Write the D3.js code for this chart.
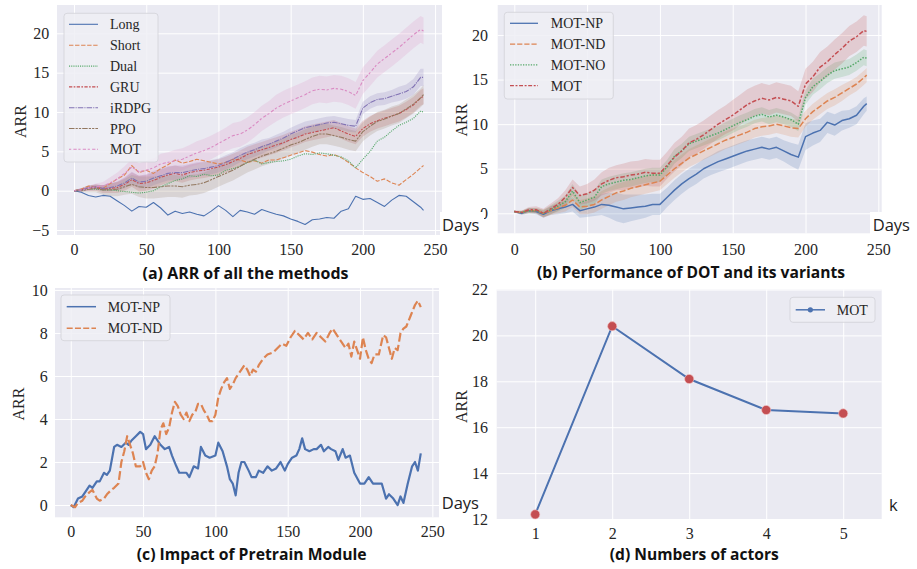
<!DOCTYPE html>
<html><head><meta charset="utf-8">
<script src="https://cdn.jsdelivr.net/npm/d3@7"></script>
<style>body{margin:0;background:#fff;}</style>
</head><body><svg id="c" width="917" height="569" xmlns="http://www.w3.org/2000/svg"></svg>
<script>
// ---------------- DATA ----------------
const daysAB = [0,5,10,15,20,25,30,35,40,45,50,55,60,65,70,75,80,85,90,95,100,105,110,115,120,125,130,135,140,145,150,155,160,165,170,175,180,185,190,195,200,205,210,215,220,225,230,235,240,242];

// (a) ARR of all the methods
const longA  = [0,-0.2,-0.6,-0.8,-0.6,-0.7,-1.3,-1.9,-2.6,-2.0, -2.1,-1.5,-2.2,-3.1,-2.6,-2.9,-2.7,-3.0,-3.2,-2.6, -1.9,-2.5,-3.3,-2.5,-2.7,-3.0,-2.4,-2.7,-3.0,-3.2, -3.6,-3.9,-4.3,-3.7,-3.6,-3.4,-3.5,-2.6,-2.3,-0.7, -1.1,-1.0,-1.5,-2.0,-1.2,-0.6,-0.7,-1.4,-2.1,-2.5];
const shortA = [0,0.2,0.6,0.5,0.3,0.9,1.5,2.0,3.2,2.3, 2.6,2.2,2.8,3.3,3.9,3.5,3.7,4.0,3.8,3.6, 3.4,3.6,4.0,3.9,3.6,3.8,3.5,3.9,3.9,4.2, 4.5,4.8,5.1,4.9,4.6,4.4,4.6,4.2,3.6,2.9, 2.3,1.8,1.2,1.5,1.0,0.7,1.4,2.1,2.9,3.2];
const dualA  = [0,0.1,0.2,0.2,0.1,0.1,0.0,-0.1,-0.2,-0.3, -0.2,0.0,0.5,0.9,1.3,1.5,1.9,1.8,2.1,1.9, 2.0,2.6,2.8,3.1,3.6,3.9,3.4,3.6,3.7,3.8, 4.0,4.4,4.7,4.6,4.8,4.7,4.5,4.3,3.8,2.9, 4.0,5.0,6.3,6.8,7.6,8.3,8.7,9.2,10.1,10.0];
const gruA   = [0,0.1,0.3,0.4,0.2,0.3,0.4,0.8,1.4,0.9, 1.0,1.3,1.7,2.0,2.2,2.0,2.3,2.5,2.6,2.8, 3.0,3.3,3.7,4.1,4.6,4.9,5.2,5.5,5.8,6.1, 6.5,6.8,7.2,7.4,7.6,7.8,8.0,7.6,7.2,6.9, 7.9,8.5,8.9,9.2,9.5,9.8,10.3,10.9,11.8,12.0];
const irdpgA = [0,0.1,0.4,0.5,0.3,0.4,0.6,1.0,1.6,1.1, 1.2,1.6,1.9,2.2,2.3,2.3,2.5,2.7,2.8,3.0, 3.2,3.6,4.0,4.5,4.9,5.2,5.6,5.9,6.3,6.7, 7.2,7.6,8.0,8.2,8.4,8.6,8.7,8.5,8.3,8.2, 10.5,11.2,11.6,11.7,12.0,12.3,12.6,13.2,14.4,14.4];
const ppoA   = [0,0.0,0.2,0.3,0.1,0.1,0.2,0.5,0.8,0.5, 0.4,0.4,0.5,0.6,0.6,0.5,0.7,0.8,1.0,1.4, 1.8,2.2,2.6,3.1,3.6,4.0,4.4,4.7,5.0,5.4, 5.8,6.1,6.5,6.9,7.2,7.2,7.0,6.8,6.5,6.3, 7.5,8.2,8.8,9.1,9.5,9.8,10.4,11.0,11.8,12.2];
const motA   = [0,0.1,0.3,0.5,0.6,1.0,1.5,2.2,3.0,2.4, 2.6,2.9,3.4,3.6,3.8,4.0,4.4,4.8,5.1,5.5, 6.0,6.5,7.0,7.2,7.7,8.4,9.2,9.8,10.5,11.0, 11.4,11.8,12.2,12.7,12.9,12.8,13.0,12.9,12.6,12.1, 14.0,15.0,16.1,16.8,17.5,18.2,19.0,19.8,20.5,20.3];
// confidence half-widths
const bandGruA   = [0.1,0.2,0.3,0.4,0.5,0.6,0.7,0.8,0.9,1.0, 1.0,1.0,1.0,1.0,1.0,1.0,1.0,1.0,1.0,1.0, 1.0,1.0,1.0,1.0,1.0,1.0,1.0,1.0,1.0,1.0, 1.0,1.0,1.0,1.0,1.0,1.0,1.0,1.0,1.0,1.0, 1.0,1.0,1.0,1.0,1.0,1.0,1.0,1.0,1.0,1.0];
const bandIrdpgA = [0.1,0.2,0.3,0.3,0.4,0.5,0.6,0.7,0.8,0.8, 0.9,0.9,0.9,0.9,0.9,0.9,0.9,0.9,0.9,0.9, 0.9,0.9,0.9,0.9,0.9,0.9,0.9,0.8,0.8,0.8, 0.8,0.8,0.8,0.8,0.8,0.8,0.8,0.8,0.8,0.8, 0.8,0.8,0.8,0.8,0.8,0.9,0.9,1.0,1.1,1.1];
const bandPpoA   = [0.1,0.2,0.4,0.5,0.6,0.8,0.9,1.0,1.2,1.3, 1.4,1.4,1.4,1.4,1.4,1.4,1.3,1.3,1.3,1.3, 1.3,1.3,1.3,1.3,1.3,1.3,1.3,1.3,1.3,1.3, 1.3,1.3,1.3,1.3,1.3,1.3,1.3,1.3,1.3,1.3, 1.2,1.2,1.2,1.2,1.2,1.2,1.2,1.2,1.2,1.2];
const bandMotA   = [0.1,0.2,0.3,0.4,0.5,0.7,0.8,0.9,1.0,1.1, 1.2,1.2,1.3,1.3,1.4,1.4,1.4,1.5,1.5,1.5, 1.5,1.5,1.6,1.6,1.6,1.6,1.6,1.6,1.7,1.7, 1.7,1.7,1.7,1.7,1.7,1.7,1.7,1.7,1.7,1.7, 1.7,1.7,1.7,1.7,1.7,1.7,1.7,1.7,1.7,1.7];

// (b) Performance of DOT and its variants
const npB  = [0.2,0.0,0.3,0.2,-0.1,0.3,0.5,0.7,1.0,0.3, 0.5,0.7,1.0,0.9,0.7,0.5,0.6,0.7,0.8,1.0, 1.0,1.8,2.6,3.3,3.9,4.4,5.0,5.4,5.8,6.1, 6.4,6.7,7.0,7.2,7.4,7.2,7.4,7.0,6.6,6.3, 8.6,9.0,9.3,10.2,9.9,10.4,10.6,11.0,12.0,12.3];
const ndB  = [0.2,0.1,0.3,0.3,0.0,0.3,0.6,0.9,1.5,0.7, 0.8,1.0,1.5,1.9,2.3,2.5,2.8,3.0,3.2,3.4, 3.6,4.3,5.0,5.6,6.2,6.6,7.0,7.4,7.8,8.2, 8.5,8.8,9.1,9.5,9.7,9.8,10.0,9.8,9.6,9.5, 10.6,11.4,12.0,12.6,13.0,13.5,14.0,14.5,15.2,15.5];
const noB  = [0.2,0.1,0.3,0.3,0.0,0.4,0.8,1.3,2.5,1.2, 1.5,1.8,3.0,3.3,3.5,3.7,3.8,4.0,4.2,4.3, 4.3,5.2,6.4,7.0,7.8,8.1,8.4,8.7,9.0,9.4, 9.8,10.2,10.5,10.9,11.1,10.8,11.0,10.8,10.5,10.0, 13.0,14.2,14.8,15.5,16.0,16.2,16.4,16.9,17.5,17.4];
const motB = [0.2,0.1,0.4,0.4,0.0,0.5,1.0,1.8,2.9,2.0, 2.2,2.6,3.3,3.7,4.0,4.1,4.3,4.4,4.6,4.5, 4.5,5.4,6.3,7.0,7.9,8.3,8.8,9.4,10.0,10.5, 11.0,11.6,12.2,12.6,12.9,12.7,13.0,12.8,12.6,12.0, 14.5,15.3,16.4,17.0,17.8,18.5,19.3,19.8,20.5,20.4];
const bandNpB  = [0.1,0.2,0.3,0.3,0.4,0.5,0.6,0.7,0.8,0.8, 0.9,1.0,1.2,1.4,1.6,1.6,1.5,1.4,1.3,1.2, 1.2,1.1,1.1,1.1,1.1,1.1,1.1,1.1,1.2,1.2, 1.2,1.2,1.2,1.2,1.2,1.2,1.2,1.2,1.3,1.4, 1.5,1.4,1.3,1.2,1.2,1.1,1.0,1.0,0.9,0.8];
const bandNdB  = [0.1,0.2,0.3,0.3,0.4,0.5,0.6,0.7,0.8,0.8, 0.9,0.9,1.0,1.0,1.0,1.0,1.0,1.0,1.0,1.0, 1.0,1.0,1.0,1.0,1.0,1.0,1.0,1.0,1.0,1.0, 1.0,1.0,1.0,1.0,1.0,1.0,1.0,1.0,1.0,1.0, 0.9,0.9,0.9,0.9,0.9,0.9,0.8,0.8,0.8,0.8];
const bandNoB  = [0.1,0.2,0.3,0.3,0.4,0.5,0.6,0.7,0.8,0.8, 0.8,0.8,0.8,0.8,0.8,0.8,0.8,0.8,0.8,0.8, 0.8,0.8,0.8,0.8,0.8,0.8,0.8,0.8,0.8,0.8, 0.8,0.8,0.8,0.8,0.8,0.8,0.8,0.8,0.8,0.8, 0.8,0.9,0.9,0.9,0.9,0.9,0.9,0.9,0.9,0.9];
const bandMotB = [0.1,0.2,0.3,0.4,0.5,0.6,0.7,0.8,0.9,1.0, 1.1,1.2,1.3,1.4,1.4,1.5,1.5,1.5,1.5,1.5, 1.5,1.5,1.6,1.6,1.6,1.6,1.6,1.6,1.6,1.6, 1.7,1.7,1.7,1.7,1.7,1.7,1.7,1.7,1.7,1.7, 1.7,1.7,1.7,1.7,1.7,1.7,1.7,1.7,1.7,1.7];

// (c) Impact of Pretrain Module
const npCDays = [0,2,5,8,10,13,15,18,20,23,25,27,30,32,35,38,40,42,45,48,50,52,55,58,60,62,65,68,70,73,75,78,80,82,85,88,90,93,96,100,102,105,108,110,112,114,116,118,120,123,125,128,130,133,136,139,142,145,148,150,153,156,158,160,162,165,168,170,173,175,178,180,183,185,188,190,193,196,200,203,206,209,212,215,218,220,223,226,228,230,233,236,238,240,242];
const npC = [0.0,-0.1,0.3,0.4,0.6,0.9,0.8,1.1,1.1,1.5,1.4,1.6,2.7,2.8,2.7,2.9,2.8,3.0,3.2,3.4,3.3,2.6,2.8,3.2,3.0,2.8,2.6,2.7,2.3,1.8,1.5,1.5,1.5,1.3,1.8,1.7,2.7,2.3,2.2,2.3,2.9,2.5,1.8,1.2,1.0,0.45,1.5,2.0,2.0,1.6,1.3,1.3,1.6,1.5,1.8,1.6,1.7,2.0,1.6,1.9,2.2,2.3,2.6,3.1,2.6,2.5,2.6,2.6,2.8,2.5,2.7,2.6,2.5,2.1,2.6,2.2,2.3,1.5,1.0,1.0,1.3,1.0,1.0,1.0,0.3,0.5,0.3,0.0,0.4,0.1,1.0,1.8,2.0,1.6,2.4];
const ndCDays = [0,3,5,8,10,13,15,18,20,23,25,28,30,33,35,37,39,41,43,45,48,50,52,54,56,58,60,62,64,66,68,70,72,74,76,78,80,82,84,86,88,90,92,94,96,98,100,102,104,106,108,110,112,114,116,118,120,122,124,126,128,130,133,136,140,143,146,149,152,155,158,161,164,167,170,173,176,179,181,184,187,190,192,194,196,198,200,202,204,206,208,210,213,216,218,220,222,224,226,228,230,232,235,238,240,242];
const ndC = [0.0,-0.1,0.1,0.2,0.4,0.6,0.7,0.3,0.2,0.3,0.5,0.7,0.8,1.0,2.0,2.5,3.2,2.8,2.4,1.8,1.8,2.0,1.5,1.2,1.6,1.8,2.4,3.5,3.8,3.3,3.6,4.3,4.8,4.6,4.2,4.0,4.3,3.9,4.2,4.3,4.7,4.7,4.4,4.2,3.9,3.9,4.2,5.0,5.4,5.7,5.9,5.4,5.6,5.9,6.1,6.3,6.5,6.3,6.0,6.3,6.2,6.5,6.8,7.0,7.1,7.3,7.5,7.4,7.8,8.1,7.9,7.7,8.0,7.7,8.0,7.8,7.6,8.0,8.2,7.9,7.6,7.3,7.5,6.9,7.6,7.2,6.8,7.8,7.2,6.8,6.6,7.0,7.0,7.9,7.8,7.3,6.8,7.3,7.2,8.0,8.2,8.3,8.8,9.3,9.5,9.2];

// (d) Numbers of actors
const actorsK = [1,2,3,4,5];
const actorsARR = [12.2,20.4,18.1,16.75,16.6];

// tick labels
const dayTicks = [0,50,100,150,200,250];
const ticksA = [-5,0,5,10,15,20];
const ticksB = [0,5,10,15,20];
const ticksC = [0,2,4,6,8,10];
const ticksD = [12,14,16,18,20,22];

// ---------------- DRAWING ----------------
const svg = d3.select("#c");
const SERIF = '"Liberation Serif","Times New Roman",serif';
const SANS = '"Open Sans","Noto Sans",sans-serif';
const COL = {blue:"#4C72B0", orange:"#DD8452", green:"#55A868", red:"#C44E52", purple:"#8172B3", brown:"#937860", pink:"#DA8BC3"};
const DASH = {solid:null, dash:[4,1.5], dot:[1,1], dashdot:[3,1.25,1.5,1.25], dashdot2:[5,1,1,1], dashdot3:[5,1,2,1,2,1], mot:[2,2,3,1.5]};
const dashStr = (d,lw)=> d ? d.map(v=>v*lw).join(",") : null;

function makePanel(o){
  const g = svg.append("g");
  const x = d3.scaleLinear().domain(o.xd).range([o.l,o.r]);
  const y = d3.scaleLinear().domain(o.yd).range([o.b,o.t]);
  g.append("rect").attr("x",o.l).attr("y",o.t).attr("width",o.r-o.l).attr("height",o.b-o.t).attr("fill","#EAEAF2");
  g.append("g").attr("transform",`translate(0,${o.b})`)
    .call(d3.axisBottom(x).tickValues(o.xt).tickSize(-(o.b-o.t)).tickFormat(""))
    .call(s=>{s.select(".domain").remove(); s.selectAll("line").attr("stroke","#fff").attr("stroke-width",1);});
  g.append("g").attr("transform",`translate(${o.l},0)`)
    .call(d3.axisLeft(y).tickValues(o.yt).tickSize(-(o.r-o.l)).tickFormat(""))
    .call(s=>{s.select(".domain").remove(); s.selectAll("line").attr("stroke","#fff").attr("stroke-width",1);});
  const xa = g.append("g").attr("transform",`translate(0,${o.b})`)
    .call(d3.axisBottom(x).tickValues(o.xt).tickSize(0).tickPadding(o.xpad).tickFormat(d3.format("d")));
  xa.select(".domain").remove();
  xa.selectAll("text").attr("font-family",SERIF).attr("font-size",16).attr("fill","#262626");
  const ya = g.append("g").attr("transform",`translate(${o.l},0)`)
    .call(d3.axisLeft(y).tickValues(o.yt).tickSize(0).tickPadding(o.ypad).tickFormat(d3.format("d")));
  ya.select(".domain").remove();
  ya.selectAll("text").attr("font-family",SERIF).attr("font-size",16).attr("fill","#262626");
  g.append("text").attr("transform",`translate(${o.ylx},${o.yly}) rotate(-90)`)
    .attr("text-anchor","middle").attr("font-family",SERIF).attr("font-size",16).attr("fill","#262626").text("ARR");
  const cid = "clip"+o.id;
  svg.append("clipPath").attr("id",cid).append("rect").attr("x",o.l).attr("y",o.t).attr("width",o.r-o.l).attr("height",o.b-o.t);
  const plot = g.append("g").attr("clip-path",`url(#${cid})`);
  return {g,plot,x,y};
}

function drawSeries(P, xs, ys, band, color){
  if(band){
    const area = d3.area().x((d,i)=>P.x(xs[i])).y0((d,i)=>P.y(ys[i]-band[i])).y1((d,i)=>P.y(ys[i]+band[i]));
    P.plot.append("path").attr("d",area(ys)).attr("fill",color).attr("fill-opacity",0.2).attr("stroke","none");
  }
}
function drawLine(P, xs, ys, color, dash, lw){
  const n = Math.min(xs.length, ys.length);
  const line = d3.line().x(i=>P.x(xs[i])).y(i=>P.y(ys[i]));
  P.plot.append("path").attr("d",line(d3.range(n))).attr("fill","none").attr("stroke",color)
    .attr("stroke-width",lw).attr("stroke-dasharray",dashStr(dash,lw)).attr("stroke-linejoin","round");
}

function legend(box, entries, lx0, lx1, tx, ys, lw){
  svg.append("rect").attr("x",box[0]).attr("y",box[1]).attr("width",box[2]-box[0]).attr("height",box[3]-box[1])
    .attr("rx",3).attr("fill","#EEEEF4").attr("fill-opacity",0.85).attr("stroke","#D2D2D8").attr("stroke-width",0.8);
  entries.forEach((e,i)=>{
    svg.append("line").attr("x1",lx0).attr("x2",lx1).attr("y1",ys[i]).attr("y2",ys[i]).attr("stroke",e.color)
      .attr("stroke-width",lw).attr("stroke-dasharray",dashStr(e.dash,lw));
    if(e.marker) svg.append("circle").attr("cx",(lx0+lx1)/2).attr("cy",ys[i]).attr("r",2.6).attr("fill",e.color);
    svg.append("text").attr("x",tx).attr("y",ys[i]+5).attr("font-family",SERIF).attr("font-size",14).attr("fill","#262626").text(e.name);
  });
}

// ---- panel (a)
const PA = makePanel({id:"a", l:57, r:442, t:5, b:235, xd:[-11.8,254.8], yd:[-5.63,23.6], xt:dayTicks, yt:ticksA, xpad:8.6, ypad:7.7, ylx:25.5, yly:121.5});
const seriesA = [
  {name:"Long", ys:longA, band:null, color:COL.blue, dash:DASH.solid},
  {name:"Short", ys:shortA, band:null, color:COL.orange, dash:DASH.dash},
  {name:"Dual", ys:dualA, band:null, color:COL.green, dash:DASH.dot},
  {name:"GRU", ys:gruA, band:bandGruA, color:COL.red, dash:DASH.dashdot},
  {name:"iRDPG", ys:irdpgA, band:bandIrdpgA, color:COL.purple, dash:DASH.dashdot2},
  {name:"PPO", ys:ppoA, band:bandPpoA, color:COL.brown, dash:DASH.dashdot3},
  {name:"MOT", ys:motA, band:bandMotA, color:COL.pink, dash:DASH.mot}
];
seriesA.forEach(s=>drawSeries(PA, daysAB, s.ys, s.band, s.color));
seriesA.forEach(s=>drawLine(PA, daysAB, s.ys, s.color, s.dash, 1.1));
legend([64,13.3,158,162], seriesA, 69, 98, 110, [24.3,45.3,66.1,86.9,107.7,128.5,149.3], 1.1);

// ---- panel (b)
const PB = makePanel({id:"b", l:497.7, r:881.7, t:5, b:233.3, xd:[-11.4,252.3], yd:[-2.24,23.36], xt:dayTicks, yt:ticksB, xpad:10.3, ypad:9.7, ylx:467, yly:120});
const seriesB = [
  {name:"MOT-NP", ys:npB, band:bandNpB, color:COL.blue, dash:DASH.solid},
  {name:"MOT-ND", ys:ndB, band:bandNdB, color:COL.orange, dash:DASH.dash},
  {name:"MOT-NO", ys:noB, band:bandNoB, color:COL.green, dash:DASH.dot},
  {name:"MOT", ys:motB, band:bandMotB, color:COL.red, dash:DASH.dashdot}
];
seriesB.forEach(s=>drawSeries(PB, daysAB, s.ys, s.band, s.color));
seriesB.forEach(s=>drawLine(PB, daysAB, s.ys, s.color, s.dash, 1.5));
legend([504.3,12.3,613.3,99], seriesB, 510, 538, 550.7, [23.3,44.1,64.9,85.7], 1.3);

// ---- panel (c)
const PC = makePanel({id:"c", l:55, r:439, t:288, b:517.3, xd:[-10.9,254.6], yd:[-0.57,10.09], xt:dayTicks, yt:ticksC, xpad:8, ypad:7.3, ylx:23.8, yly:404});
drawLine(PC, npCDays, npC, COL.blue, DASH.solid, 2.2);
drawLine(PC, ndCDays, ndC, COL.orange, DASH.dash, 2.2);
legend([61,295,170,340.7], [{name:"MOT-NP",color:COL.blue,dash:DASH.solid},{name:"MOT-ND",color:COL.orange,dash:DASH.dash}], 66.7, 96, 107.7, [306.7,328.3], 1.5);

// ---- panel (d)
const PD = makePanel({id:"d", l:496.7, r:881.7, t:289.5, b:519, xd:[0.5,5.5], yd:[12,22], xt:actorsK, yt:ticksD, xpad:8.3, ypad:8.7, ylx:467, yly:406.5});
PD.plot.append("path").attr("d", d3.line().x((d,i)=>PD.x(actorsK[i])).y(d=>PD.y(d))(actorsARR))
  .attr("fill","none").attr("stroke",COL.blue).attr("stroke-width",2);
svg.append("g").selectAll("circle").data(actorsARR).join("circle")
  .attr("cx",(d,i)=>PD.x(actorsK[i])).attr("cy",d=>PD.y(d)).attr("r",4.6)
  .attr("fill",COL.red).attr("stroke","#f3c4c4").attr("stroke-width",0.6);
legend([790,297.3,875,322.3], [{name:"MOT",color:COL.blue,dash:DASH.solid,marker:true}], 795.7, 825, 836.7, [309.8], 1.5);

// ---- axis name labels with white boxes
function daysLabel(x, yb, txt, box){
  if(box) svg.append("rect").attr("x",box[0]).attr("y",box[1]).attr("width",box[2]).attr("height",box[3]).attr("fill","#fff");
  return svg.append("text").attr("x",x).attr("y",yb).attr("font-family",SANS).attr("font-size",16.5).attr("fill","#222").text(txt);
}
daysLabel(442, 231, "Days", [440,212,44,24]);
daysLabel(872.7, 231, "Days", [870,212,44,23]);
daysLabel(441.7, 509, "Days", null);
daysLabel(889, 510.7, "k", null);

// ---- titles
function title(cx, yb, txt, target){
  const t = svg.append("text").attr("x",cx).attr("y",yb).attr("text-anchor","middle")
    .attr("font-family",SANS).attr("font-weight","bold").attr("font-size",16).attr("fill","#111").text(txt);
  const w = t.node().getComputedTextLength();
  if(w>0) t.attr("font-size", 16*target/w);
}
title(245.5, 279.3, "(a) ARR of all the methods", 206);
title(691, 278.3, "(b) Performance of DOT and its variants", 308);
title(251.7, 560, "(c) Impact of Pretrain Module", 230);
title(694.3, 560, "(d) Numbers of actors", 169);
</script>
</body></html>
